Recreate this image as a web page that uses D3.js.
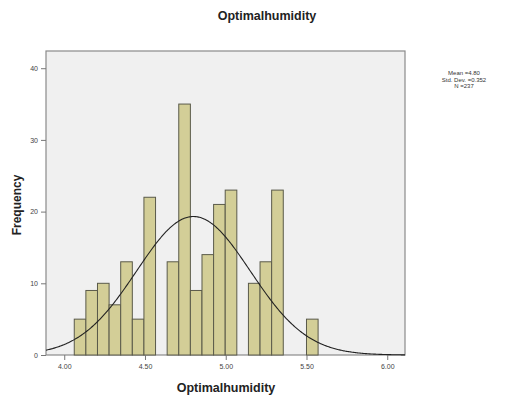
<!DOCTYPE html>
<html>
<head>
<meta charset="utf-8">
<script src="https://cdn.jsdelivr.net/npm/d3@7"></script>
<style>
  html, body { margin: 0; padding: 0; background: #fff; }
  svg { display: block; font-family: "Liberation Sans", Arial, sans-serif; }
</style>
</head>
<body>
<svg id="chart" width="509" height="398"></svg>
<script>
// Histogram of optimal humidity readings with fitted normal curve
const chartTitle = "Optimalhumidity";
const xLabel = "Optimalhumidity";
const yLabel = "Frequency";

// Bin layout (lower edge of first bin and common bin width)
const binStart = 4.062;
const binWidth = 0.0719;
// Counts per bin, in order
const binCounts = [5, 9, 10, 7, 13, 5, 22, 0, 13, 35, 9, 14, 21, 23, 0, 10, 13, 23, 0, 0, 5];

// Summary statistics
const meanValue = 4.80;
const sdValue = 0.352;
const nValue = 237;

const xTicks = [4.0, 4.5, 5.0, 5.5, 6.0];
const yTicks = [0, 10, 20, 30, 40];

const svg = d3.select("#chart");
const frame = { left: 46, right: 405, top: 51, bottom: 355 };

const x = d3.scaleLinear().domain([3.887, 6.11]).range([frame.left, frame.right]);
const y = d3.scaleLinear().domain([0, 42.4]).range([frame.bottom, frame.top]);

// plot background
svg.append("rect")
  .attr("x", frame.left).attr("y", frame.top)
  .attr("width", frame.right - frame.left).attr("height", frame.bottom - frame.top)
  .attr("fill", "#f0f0f0").attr("stroke", "#8a8a8a").attr("stroke-width", 1.2);

// bars
const bins = binCounts.map((c, i) => ({ x0: binStart + i * binWidth, x1: binStart + (i + 1) * binWidth, c }));
svg.append("g").selectAll("rect").data(bins.filter(d => d.c > 0)).join("rect")
  .attr("x", d => x(d.x0))
  .attr("y", d => y(d.c))
  .attr("width", d => x(d.x1) - x(d.x0))
  .attr("height", d => y(0) - y(d.c))
  .attr("fill", "#d3ce97")
  .attr("stroke", "#5a5a4a")
  .attr("stroke-width", 1);

// normal curve scaled to counts
const pdf = v => Math.exp(-0.5 * ((v - meanValue) / sdValue) ** 2) / (sdValue * Math.sqrt(2 * Math.PI));
const curvePts = d3.range(0, 401).map(i => {
  const v = x.domain()[0] + (x.domain()[1] - x.domain()[0]) * i / 400;
  return [v, nValue * binWidth * pdf(v)];
});
svg.append("path")
  .datum(curvePts)
  .attr("fill", "none")
  .attr("stroke", "#222")
  .attr("stroke-width", 1.1)
  .attr("d", d3.line().x(d => x(d[0])).y(d => y(d[1])));

// axes
const xAxis = svg.append("g")
  .attr("transform", `translate(0,${frame.bottom})`)
  .call(d3.axisBottom(x).tickValues(xTicks).tickFormat(d3.format(".2f")).tickSize(5).tickSizeOuter(0));
const yAxis = svg.append("g")
  .attr("transform", `translate(${frame.left},0)`)
  .call(d3.axisLeft(y).tickValues(yTicks).tickFormat(d3.format("d")).tickSize(5).tickSizeOuter(0));
[xAxis, yAxis].forEach(g => {
  g.select(".domain").remove();
  g.selectAll(".tick line").attr("stroke", "#777");
  g.selectAll(".tick text").attr("fill", "#444").style("font-size", "7px");
});
xAxis.selectAll(".tick text").attr("dy", "0.9em");

// title and axis labels
svg.append("text")
  .attr("x", 267).attr("y", 20)
  .attr("text-anchor", "middle")
  .style("font-size", "12.5px").style("font-weight", "bold").attr("fill", "#222")
  .text(chartTitle);
svg.append("text")
  .attr("x", 226).attr("y", 392)
  .attr("text-anchor", "middle")
  .style("font-size", "12.5px").style("font-weight", "bold").attr("fill", "#222")
  .text(xLabel);
svg.append("text")
  .attr("transform", "translate(21,205) rotate(-90)")
  .attr("text-anchor", "middle")
  .style("font-size", "12px").style("font-weight", "bold").attr("fill", "#222")
  .text(yLabel);

// summary statistics box
const statLines = [
  `Mean =${meanValue.toFixed(2)}`,
  `Std. Dev. =${sdValue.toFixed(3)}`,
  `N =${nValue}`
];
svg.append("g").selectAll("text").data(statLines).join("text")
  .attr("x", 464).attr("y", (d, i) => 75 + i * 6.5)
  .attr("text-anchor", "middle")
  .style("font-size", "6px").attr("fill", "#333")
  .text(d => d);
</script>
</body>
</html>
